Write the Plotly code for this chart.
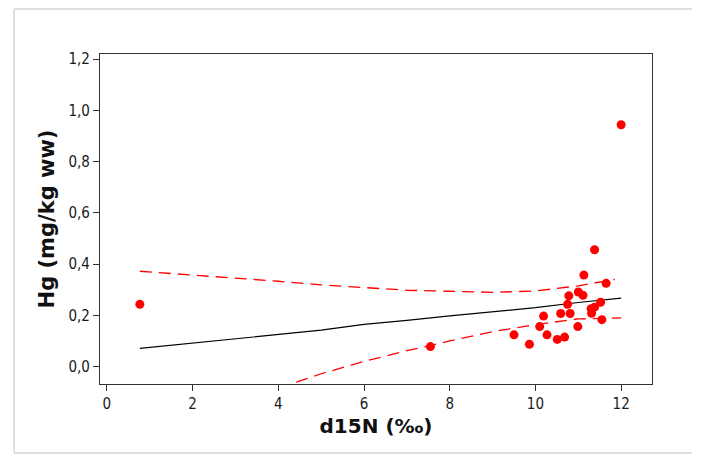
import plotly.graph_objects as go

# Data points
d15n = [0.77, 7.55, 9.50, 9.86, 10.10, 10.19, 10.27, 10.51, 10.59, 10.68, 10.75, 10.78,
        10.81, 10.99, 11.00, 11.11, 11.13, 11.30, 11.31, 11.38, 11.38, 11.52, 11.55, 11.65, 12.00]
hg = [0.243, 0.078, 0.124, 0.087, 0.156, 0.197, 0.124, 0.106, 0.207, 0.115, 0.243, 0.276,
      0.207, 0.156, 0.291, 0.278, 0.357, 0.226, 0.208, 0.232, 0.456, 0.251, 0.183, 0.325, 0.944]

# Fitted line
fit_x = [0.77, 2, 3, 4, 5, 6, 7, 8, 9, 10, 11, 12]
fit_y = [0.071, 0.091, 0.108, 0.125, 0.142, 0.165, 0.180, 0.198, 0.213, 0.230, 0.250, 0.267]

# Upper band
up_x = [0.77, 2, 3, 4, 5, 6, 7, 8, 9, 10, 11, 11.85]
up_y = [0.372, 0.357, 0.347, 0.333, 0.319, 0.308, 0.298, 0.294, 0.290, 0.295, 0.315, 0.340]

# Lower band
lo_x = [4.0, 5, 6, 7, 7.55, 8, 9, 10, 11, 12]
lo_y = [-0.085, -0.028, 0.020, 0.062, 0.082, 0.100, 0.136, 0.164, 0.186, 0.190]

x_ticks = [0, 2, 4, 6, 8, 10, 12]
y_ticks = [0.0, 0.2, 0.4, 0.6, 0.8, 1.0, 1.2]
y_tick_labels = ["0,0", "0,2", "0,4", "0,6", "0,8", "1,0", "1,2"]

fig = go.Figure()
fig.add_trace(go.Scatter(x=up_x, y=up_y, mode="lines",
                         line=dict(color="#ff0000", width=1.3, dash="12px,7px"), hoverinfo="skip"))
fig.add_trace(go.Scatter(x=lo_x, y=lo_y, mode="lines",
                         line=dict(color="#ff0000", width=1.3, dash="12px,7px"), hoverinfo="skip"))
fig.add_trace(go.Scatter(x=fit_x, y=fit_y, mode="lines",
                         line=dict(color="#000000", width=1.2)))
fig.add_trace(go.Scatter(x=d15n, y=hg, mode="markers",
                         marker=dict(color="#ff0000", size=9)))

W, H = 718, 468
OX, OY = 8, 7  # page offset of the figure
L, T = 100 - OX, 53 - OY
pw, ph = 552, 330
R, B = W - L - pw, H - T - ph

def px(x):
    return (x - OX - L) / pw

def py(y):
    return (T + ph - (y - OY)) / ph

gray = "#d4d4d4"
shapes = [
    dict(type="line", xref="paper", yref="paper", x0=px(14), x1=px(692), y0=py(8), y1=py(8),
         line=dict(color=gray, width=1.5)),
    dict(type="line", xref="paper", yref="paper", x0=px(14), x1=px(14), y0=py(8), y1=py(452),
         line=dict(color=gray, width=1.5)),
    dict(type="line", xref="paper", yref="paper", x0=px(14), x1=px(692), y0=py(452), y1=py(452),
         line=dict(color=gray, width=1.5)),
]

fig.update_layout(
    width=W, height=H,
    margin=dict(l=L, r=R, t=T, b=B),
    paper_bgcolor="white", plot_bgcolor="white",
    showlegend=False,
    shapes=shapes,
    font=dict(family="DejaVu Sans Condensed, DejaVu Sans", size=15, color="#1a1a1a"),
    xaxis=dict(range=[-0.16, 12.72], tickvals=x_ticks, ticks="outside", ticklen=6,
               tickcolor="#333333", showline=True, linecolor="#333333", linewidth=1.3,
               mirror=True, showgrid=False, zeroline=False,
               title=dict(text="<b>d15N (‰)</b>", font=dict(family="DejaVu Sans", size=20, color="#111111"),
                          standoff=6)),
    yaxis=dict(range=[-0.068, 1.22], tickvals=y_ticks, ticktext=y_tick_labels, ticks="outside",
               ticklen=6, tickcolor="#333333", showline=True, linecolor="#333333", linewidth=1.3,
               mirror=True, showgrid=False, zeroline=False,
               title=dict(text="<b>Hg (mg/kg ww)</b>", font=dict(family="DejaVu Sans", size=21, color="#111111"),
                          standoff=8)),
)

fig.write_html("out.html")
